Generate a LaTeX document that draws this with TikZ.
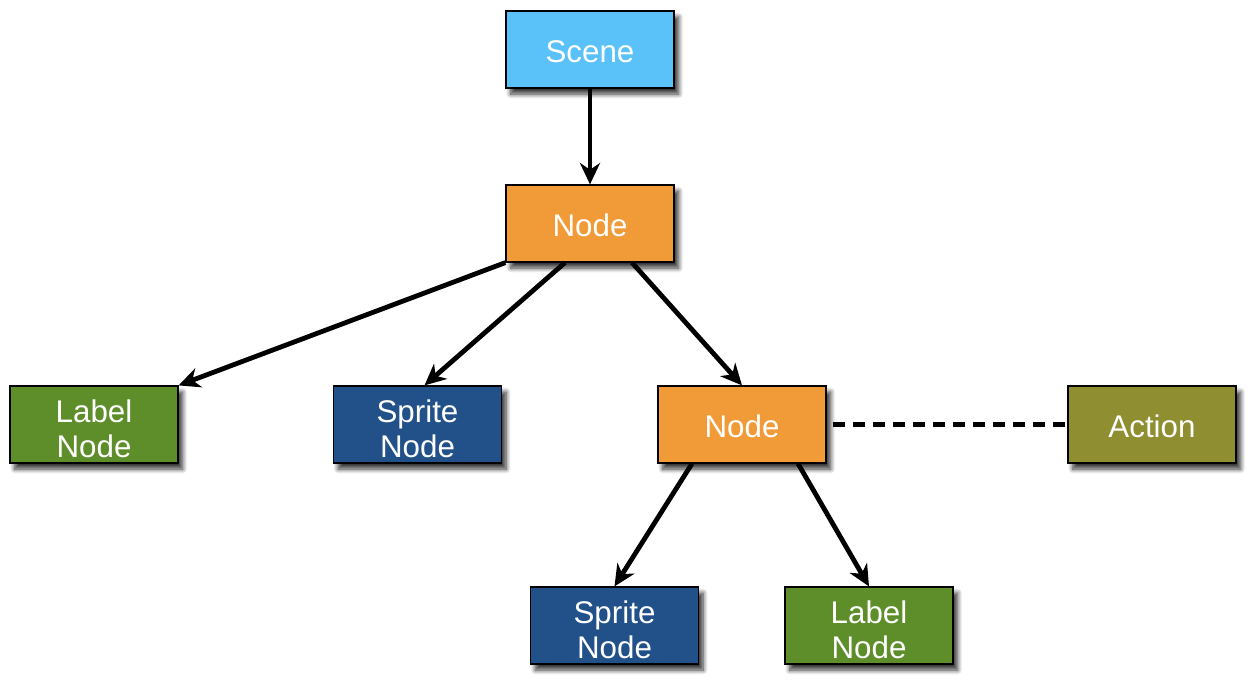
\documentclass[tikz,border=0pt]{standalone}
\usepackage{fontspec}
\setmainfont{Liberation Sans}
\usetikzlibrary{arrows.meta,shadows.blur,calc}
\definecolor{cscene}{HTML}{5AC1F9}
\definecolor{cnode}{HTML}{F09B38}
\definecolor{cgreen}{HTML}{5E8E2A}
\definecolor{cblue}{HTML}{22518A}
\definecolor{caction}{HTML}{8F8E30}
\tikzset{
  box/.style={draw=black, line width=0.9pt, minimum width=126pt, minimum height=57.75pt,
    inner sep=0pt, text=white, align=center, font=\fontsize{23.5}{26.5}\selectfont,
    blur shadow={shadow xshift=3.5pt, shadow yshift=-4.5pt, shadow blur steps=8, shadow blur radius=3.5pt, shadow opacity=80}},
  onebox/.style={box, text height=19pt},
  twobox/.style={box, text height=49.5pt},
  conn/.style={line width=3.6pt, -{Stealth[length=16pt,width=15pt,inset=5pt]}},
  dashconn/.style={line width=3.6pt, dash pattern=on 9pt off 6pt}
}
\begin{document}
\begin{tikzpicture}[x=0.75pt,y=-0.75pt]
\useasboundingbox (0,0) rectangle (1257,685);
\node[onebox, fill=cscene] (scene) at (590,49.5) {Scene};
\node[onebox, fill=cnode] (n1) at (590,223.5) {Node};
\node[twobox, fill=cgreen] (lab1) at (94,424.5) {Label\\Node};
\node[twobox, fill=cblue] (spr1) at (417.5,424.5) {Sprite\\Node};
\node[onebox, fill=cnode] (n2) at (742,424.5) {Node};
\node[onebox, fill=caction] (act) at (1152,424.5) {Action};
\node[twobox, fill=cblue] (spr2) at (614.5,625.5) {Sprite\\Node};
\node[twobox, fill=cgreen] (lab2) at (869,625.5) {Label\\Node};
\draw[conn] (scene.south) -- (n1.north);
\draw[conn] (n1.south west) -- (lab1.north east);
\draw[conn] ($(n1.south)+(-25,0)$) -- ($(spr1.north)+(7,0)$);
\draw[conn] ($(n1.south)+(42,0)$) -- (n2.north);
\draw[conn] ($(n2.south)+(-50,0)$) -- ($(spr2.north)+(0,0)$);
\draw[conn] ($(n2.south)+(56,0)$) -- ($(lab2.north)+(0,0)$);
\draw[dashconn] ($(n2.east)+(6,0)$) -- ($(act.west)+(-2,0)$);
\end{tikzpicture}
\end{document}
